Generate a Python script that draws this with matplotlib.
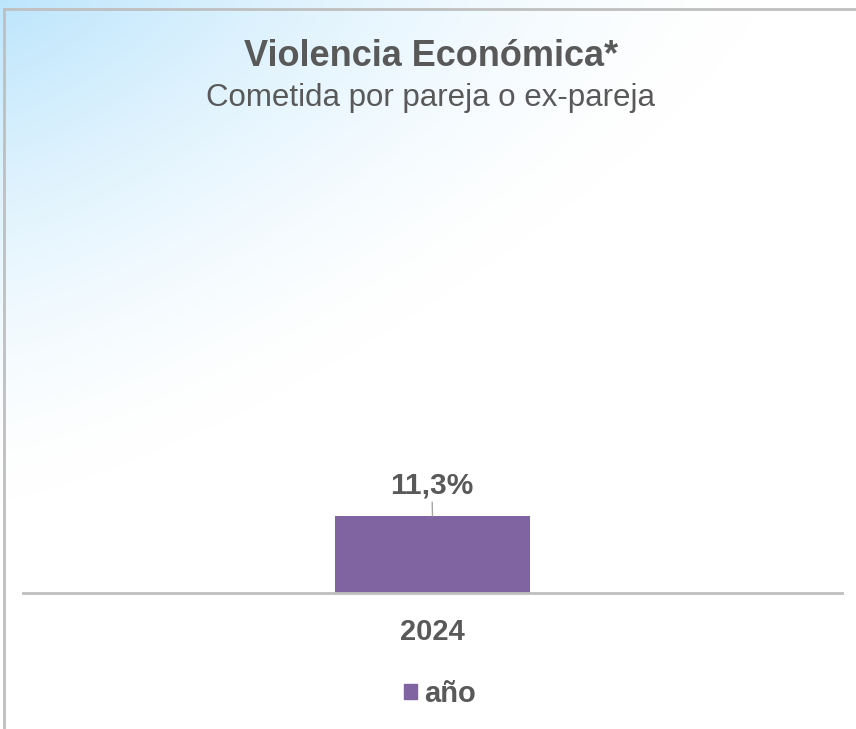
import numpy as np
import matplotlib.pyplot as plt
from matplotlib.patches import Rectangle
from matplotlib.lines import Line2D

title = "Violencia Económica*"
subtitle = "Cometida por pareja o ex-pareja"
categories = ["2024"]
values = [11.3]
value_labels = ["11,3%"]
series_name = "año"

bar_color = "#8064A2"
text_color = "#595959"
line_color = "#BFBFBF"

plt.rcParams['font.family'] = ['Liberation Sans', 'DejaVu Sans']

fig = plt.figure(figsize=(8.56, 7.29), dpi=100)
W, H = 856, 729

# soft blue glow from the top-left corner
bg = fig.add_axes([0, 0, 1, 1])
yy, xx = np.mgrid[0:H, 0:W]
p = 1.3
d = ((xx / 760.0) ** p + (yy / 500.0) ** p) ** (1 / p)
t = np.clip(1 - d, 0, 1) ** 1.5
c0 = np.array([1.0, 1.0, 1.0])
c1 = np.array([0.74, 0.90, 0.99])
img = c0[None, None, :] * (1 - t[..., None]) + c1[None, None, :] * t[..., None]
bg.imshow(img, extent=[0, W, H, 0], aspect='auto')
bg.set_xlim(0, W)
bg.set_ylim(H, 0)
bg.axis('off')

# frame lines (top and left)
bg.add_line(Line2D([4, W], [9, 9], color=line_color, lw=2))
bg.add_line(Line2D([4, 4], [9, H], color=line_color, lw=2))

fig.text(0.503, 1 - 66 / H, title, ha='center', va='baseline',
         fontsize=26, fontweight='bold', color=text_color)
fig.text(0.503, 1 - 106 / H, subtitle, ha='center', va='baseline',
         fontsize=22.5, color=text_color)

# plot area
ax_left, ax_right = 23 / W, 842 / W
ax_bottom, ax_top = 1 - 593 / H, 1 - 130 / H
ax = fig.add_axes([ax_left, ax_bottom, ax_right - ax_left, ax_top - ax_bottom])
ax.patch.set_alpha(0)
x = np.arange(len(categories))
ax.bar(x, values, width=0.239, color=bar_color, zorder=2)
ax.set_xlim(-0.5, 0.5)
ax.set_ylim(0, 11.3 * 463 / 77)
for s in ['top', 'right', 'left']:
    ax.spines[s].set_visible(False)
ax.spines['bottom'].set_color(line_color)
ax.spines['bottom'].set_linewidth(2)
ax.set_yticks([])
ax.set_xticks(x)
ax.set_xticklabels(categories, fontsize=21, fontweight='bold', color=text_color)
ax.tick_params(axis='x', length=0, pad=18)

for xi, v, lab in zip(x, values, value_labels):
    ax.annotate(lab, xy=(xi, v), xytext=(-0.5, 12), textcoords='offset points',
                ha='center', va='bottom', fontsize=21.5, fontweight='bold',
                color=text_color,
                arrowprops=dict(arrowstyle='-', color='#A6A6A6', lw=1,
                                shrinkA=0, shrinkB=0))

# legend
leg = fig.legend(handles=[Rectangle((0, 0), 1, 1, color=bar_color)],
                 labels=[series_name], loc='center', bbox_to_anchor=(0.514, 1 - 694 / H),
                 frameon=False, handlelength=0.45, handleheight=0.45,
                 handletextpad=0.25, prop={'size': 21, 'weight': 'bold'})
for t_ in leg.get_texts():
    t_.set_color(text_color)

fig.savefig("out.png", dpi=100)
